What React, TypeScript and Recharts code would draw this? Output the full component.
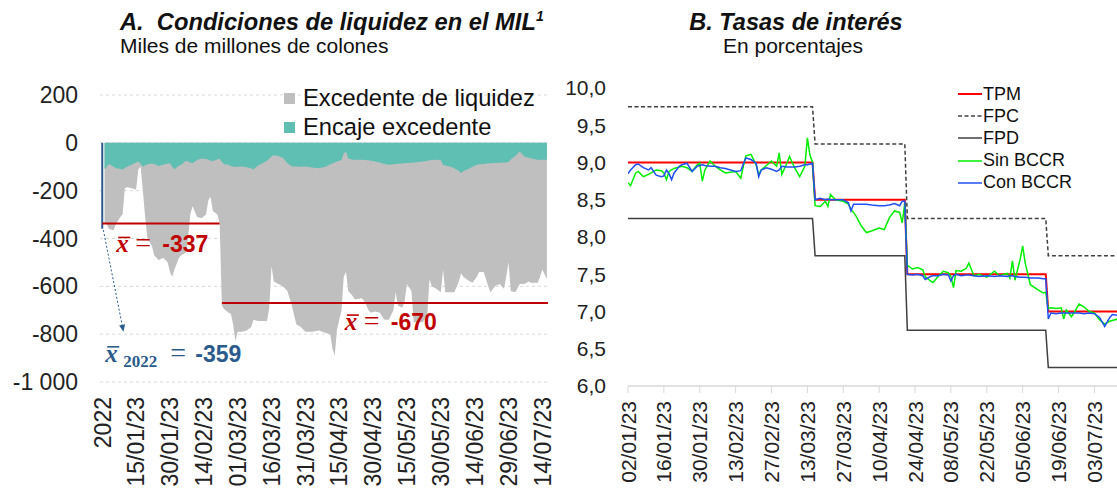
import React from "react";
import {
  Area,
  AreaChart,
  CartesianGrid,
  Line,
  LineChart,
  ReferenceLine,
  XAxis,
  YAxis,
} from "recharts";

// Panel A: liquidez en el MIL (miles de millones de colones)
const LIQ_ORIGIN = "31/12/22";
const liqTickLabels = [
  "2022", "15/01/23", "30/01/23", "14/02/23", "01/03/23", "16/03/23", "31/03/23",
  "15/04/23", "30/04/23", "15/05/23", "30/05/23", "14/06/23", "29/06/23", "14/07/23",
];
const liqDates = [
  "01/01/23", "02/01/23", "03/01/23", "05/01/23", "06/01/23", "08/01/23", "09/01/23", "10/01/23",
  "11/01/23", "13/01/23", "15/01/23", "16/01/23", "17/01/23", "18/01/23", "19/01/23", "20/01/23",
  "22/01/23", "23/01/23", "25/01/23", "27/01/23", "29/01/23", "30/01/23", "31/01/23", "01/02/23",
  "03/02/23", "04/02/23", "06/02/23", "07/02/23", "08/02/23", "09/02/23", "11/02/23", "13/02/23",
  "15/02/23", "16/02/23", "17/02/23", "18/02/23", "20/02/23", "21/02/23", "22/02/23", "23/02/23",
  "25/02/23", "26/02/23", "27/02/23", "28/02/23", "01/03/23", "03/03/23", "05/03/23", "07/03/23",
  "08/03/23", "10/03/23", "12/03/23", "14/03/23", "15/03/23", "16/03/23", "17/03/23", "19/03/23",
  "21/03/23", "23/03/23", "25/03/23", "27/03/23", "29/03/23", "31/03/23", "03/04/23", "06/04/23",
  "09/04/23", "11/04/23", "12/04/23", "13/04/23", "14/04/23", "16/04/23", "17/04/23", "18/04/23",
  "19/04/23", "21/04/23", "22/04/23", "25/04/23", "26/04/23", "28/04/23", "29/04/23", "01/05/23",
  "03/05/23", "05/05/23", "07/05/23", "09/05/23", "10/05/23", "11/05/23", "13/05/23", "14/05/23",
  "15/05/23", "17/05/23", "18/05/23", "20/05/23", "22/05/23", "24/05/23", "25/05/23", "26/05/23",
  "28/05/23", "30/05/23", "31/05/23", "01/06/23", "03/06/23", "05/06/23", "07/06/23", "08/06/23",
  "09/06/23", "11/06/23", "13/06/23", "15/06/23", "16/06/23", "18/06/23", "20/06/23", "21/06/23",
  "23/06/23", "25/06/23", "27/06/23", "28/06/23", "29/06/23", "30/06/23", "02/07/23", "04/07/23",
  "06/07/23", "08/07/23", "09/07/23", "12/07/23", "13/07/23", "14/07/23", "16/07/23",
];
const excedente = [
  -335, -340, -360, -365, -340, -310, -300, -190,
  -185, -190, -195, -110, -100, -200, -310, -400,
  -430, -470, -490, -480, -500, -540, -560, -530,
  -480, -470, -460, -400, -300, -265, -310, -315,
  -300, -240, -225, -285, -300, -335, -680, -695,
  -710, -715, -760, -830, -790, -790, -785, -770,
  -740, -745, -745, -745, -690, -515, -580, -590,
  -600, -620, -680, -760, -770, -790, -790, -785,
  -795, -800, -860, -890, -780, -700, -560, -540,
  -620, -640, -655, -650, -660, -700, -710, -705,
  -710, -740, -740, -700, -625, -680, -690, -660,
  -590, -620, -750, -750, -750, -720, -570, -600,
  -610, -625, -530, -625, -625, -625, -580, -545,
  -560, -575, -585, -560, -540, -540, -600, -625,
  -600, -590, -610, -560, -500, -620, -625, -590,
  -590, -580, -585, -585, -560, -530, -570,
];
const encaje = [
  -110, -100, -88, -100, -106, -108, -112, -105,
  -100, -92, -82, -78, -88, -99, -95, -90,
  -86, -88, -97, -92, -86, -85, -100, -110,
  -95, -92, -75, -78, -82, -85, -72, -65,
  -68, -70, -75, -76, -70, -66, -80, -90,
  -92, -98, -99, -100, -100, -99, -102, -106,
  -112, -95, -85, -75, -65, -57, -52, -55,
  -62, -85, -99, -99, -100, -99, -103, -106,
  -100, -90, -86, -82, -78, -72, -45, -36,
  -65, -71, -71, -71, -72, -73, -75, -78,
  -82, -88, -92, -90, -88, -87, -86, -85,
  -84, -83, -82, -80, -78, -75, -73, -72,
  -71, -73, -92, -95, -99, -106, -118, -126,
  -118, -110, -100, -92, -90, -88, -85, -85,
  -84, -83, -82, -82, -80, -70, -55, -36,
  -57, -62, -66, -71, -71, -71, -71,
];
const mean2022 = -359;
const meanJanFeb = -337;
const meanSinceMar = -670;
const periodOneEnd = "21/02/23";
const periodTwoStart = "22/02/23";

// Panel B: tasas de interés (%)
const RATE_ORIGIN = "02/01/23";
const rateTickLabels = [
  "02/01/23", "16/01/23", "30/01/23", "13/02/23", "27/02/23", "13/03/23", "27/03/23",
  "10/04/23", "24/04/23", "08/05/23", "22/05/23", "05/06/23", "19/06/23", "03/07/23",
];
const rateDates = [
  "02/01/23", "03/01/23", "05/01/23", "06/01/23", "08/01/23", "10/01/23", "11/01/23", "13/01/23",
  "15/01/23", "16/01/23", "17/01/23", "18/01/23", "19/01/23", "20/01/23", "22/01/23", "23/01/23",
  "25/01/23", "27/01/23", "29/01/23", "30/01/23", "31/01/23", "01/02/23", "03/02/23", "05/02/23",
  "07/02/23", "09/02/23", "11/02/23", "13/02/23", "15/02/23", "16/02/23", "17/02/23", "19/02/23",
  "21/02/23", "22/02/23", "23/02/23", "25/02/23", "27/02/23", "01/03/23", "02/03/23", "03/03/23",
  "05/03/23", "06/03/23", "08/03/23", "10/03/23", "12/03/23", "13/03/23", "14/03/23", "15/03/23",
  "16/03/23", "18/03/23", "20/03/23", "21/03/23", "22/03/23", "24/03/23", "27/03/23", "29/03/23",
  "30/03/23", "31/03/23", "01/04/23", "03/04/23", "05/04/23", "07/04/23", "10/04/23", "12/04/23",
  "14/04/23", "16/04/23", "18/04/23", "19/04/23", "20/04/23", "21/04/23", "23/04/23", "25/04/23",
  "27/04/23", "28/04/23", "30/04/23", "01/05/23", "03/05/23", "05/05/23", "07/05/23", "08/05/23",
  "09/05/23", "10/05/23", "12/05/23", "14/05/23", "15/05/23", "17/05/23", "19/05/23", "22/05/23",
  "25/05/23", "27/05/23", "30/05/23", "31/05/23", "01/06/23", "02/06/23", "04/06/23", "05/06/23",
  "06/06/23", "08/06/23", "11/06/23", "13/06/23", "14/06/23", "15/06/23", "16/06/23", "18/06/23",
  "20/06/23", "21/06/23", "22/06/23", "24/06/23", "25/06/23", "27/06/23", "29/06/23", "01/07/23",
  "03/07/23", "05/07/23", "07/07/23", "09/07/23", "10/07/23", "12/07/23", "14/07/23", "16/07/23",
  "18/07/23", "20/07/23",
];
const conBccr = [
  8.85, 8.90, 8.97, 8.98, 8.93, 8.90, 8.93, 8.83,
  8.81, 8.82, 8.90, 8.85, 8.77, 8.86, 8.95, 8.97,
  8.99, 8.88, 8.95, 8.96, 8.97, 8.96, 8.95, 8.95,
  8.93, 8.92, 8.90, 8.88, 8.89, 8.98, 9.06, 9.04,
  8.99, 8.81, 8.90, 8.93, 8.91, 8.88, 8.90, 8.95,
  8.94, 8.94, 8.94, 8.95, 8.97, 8.97, 8.98, 8.99,
  8.50, 8.52, 8.50, 8.51, 8.50, 8.50, 8.50, 8.46,
  8.35, 8.44, 8.44, 8.44, 8.44, 8.43, 8.42, 8.42,
  8.43, 8.45, 8.42, 8.48, 8.48, 7.50, 7.49, 7.50,
  7.48, 7.43, 7.47, 7.48, 7.48, 7.50, 7.49, 7.41,
  7.48, 7.50, 7.48, 7.49, 7.49, 7.48, 7.47, 7.48,
  7.47, 7.48, 7.47, 7.48, 7.48, 7.47, 7.46, 7.46,
  7.46, 7.45, 7.45, 7.44, 7.44, 6.90, 6.98, 6.97,
  6.98, 6.98, 6.98, 6.98, 6.98, 6.98, 6.97, 6.98,
  6.97, 6.92, 6.80, 6.92, 6.96, 6.95, 6.97, 6.98,
  6.97, 6.97,
];
const sinBccr = [
  8.73, 8.69, 8.86, 8.88, 8.81, 8.84, 8.86, 8.90,
  8.89, 8.86, 8.77, 8.88, 8.90, 8.92, 8.94, 8.95,
  8.93, 8.88, 8.97, 8.99, 8.75, 8.90, 9.02, 8.95,
  8.90, 8.86, 8.87, 8.88, 8.79, 8.95, 9.09, 9.11,
  8.97, 8.84, 8.90, 8.96, 9.02, 8.95, 9.13, 8.84,
  8.99, 9.08, 8.93, 8.81, 8.95, 9.33, 9.10, 9.00,
  8.42, 8.41, 8.48, 8.41, 8.57, 8.50, 8.48, 8.44,
  8.37, 8.33, 8.28, 8.15, 8.06, 8.08, 8.12, 8.10,
  8.26, 8.35, 8.33, 8.19, 8.46, 7.62, 7.57, 7.59,
  7.56, 7.47, 7.41, 7.39, 7.47, 7.54, 7.52, 7.47,
  7.32, 7.55, 7.54, 7.58, 7.65, 7.48, 7.50, 7.46,
  7.54, 7.48, 7.51, 7.45, 7.68, 7.42, 7.70, 7.88,
  7.65, 7.36, 7.29, 7.25, 7.26, 7.04, 7.05, 7.04,
  7.05, 6.90, 7.02, 6.93, 6.98, 7.10, 7.06, 7.00,
  6.98, 6.89, 6.83, 6.87, 6.88, 6.90, 6.92, 6.93,
  6.92, 6.93,
];
const policyDates = ["02/01/23", "15/03/23", "16/03/23", "20/04/23", "21/04/23", "14/06/23", "15/06/23", "20/07/23"];
const tpm = [9.0, 9.0, 8.5, 8.5, 7.5, 7.5, 7.0, 7.0];
const fpc = [9.75, 9.75, 9.25, 9.25, 8.25, 8.25, 7.75, 7.75];
const fpd = [8.25, 8.25, 7.75, 7.75, 6.75, 6.75, 6.25, 6.25];

const DAY_MS = 86400000;

function toUtc(label: string) {
  const [d, m, y] = label.split("/").map(Number);
  return Date.UTC(2000 + y, m - 1, d);
}

function dayOf(label: string, origin: string) {
  if (label === "2022") return 0;
  return Math.round((toUtc(label) - toUtc(origin)) / DAY_MS);
}

const liqData = liqDates.map((d, i) => ({
  day: dayOf(d, LIQ_ORIGIN),
  excedente: excedente[i],
  encaje: encaje[i],
}));
const liqTicks = liqTickLabels.map((t) => dayOf(t, LIQ_ORIGIN));
const liqTickMap = new Map(liqTicks.map((d, i) => [d, liqTickLabels[i]]));
const lastLiqDay = liqData[liqData.length - 1].day;

const rateTicks = rateTickLabels.map((t) => dayOf(t, RATE_ORIGIN));
const rateTickMap = new Map(rateTicks.map((d, i) => [d, rateTickLabels[i]]));
const toSeries = (values: number[], dates: string[]) =>
  dates.map((d, i) => ({ day: dayOf(d, RATE_ORIGIN), value: values[i] }));

const rateSeries = [
  { name: "TPM", color: "#ff0000", width: 2, dash: undefined, data: toSeries(tpm, policyDates) },
  { name: "FPC", color: "#404040", width: 1.5, dash: "4 2.5", data: toSeries(fpc, policyDates) },
  { name: "FPD", color: "#404040", width: 1.5, dash: undefined, data: toSeries(fpd, policyDates) },
  { name: "Sin BCCR", color: "#00ee00", width: 1.5, dash: undefined, data: toSeries(sinBccr, rateDates) },
  { name: "Con BCCR", color: "#2050f0", width: 1.5, dash: undefined, data: toSeries(conBccr, rateDates) },
];

const liqSeries = [
  { key: "excedente", name: "Excedente de liquidez", color: "#bfbfbf" },
  { key: "encaje", name: "Encaje excedente", color: "#5fbfb2" },
];

const RED = "#c00000";
const NAVY = "#2a5b8c";
const SERIF = '"Liberation Serif", "DejaVu Serif", serif';

const formatThousands = (v: number) => String(v).replace(/\B(?=(\d{3})+(?!\d))/g, " ");

function RotatedTick(props: any) {
  const { x, y, payload, labels, fontSize } = props;
  return (
    <text
      x={x}
      y={y}
      transform={`rotate(-90 ${x} ${y})`}
      textAnchor="end"
      dy="0.36em"
      fontSize={fontSize}
      fill="#222"
    >
      {labels.get(payload.value) ?? ""}
    </text>
  );
}

// x̄ = value, hung off a reference line's viewBox
function MeanLabel(props: any) {
  const { viewBox, dx, dy, value, sub, color } = props;
  const x0 = viewBox.x + dx;
  const base = viewBox.y + dy;
  const eqAt = sub ? 65 : 19;
  const valAt = sub ? 90 : 46;
  return (
    <g fill={color}>
      <text x={x0} y={base} fontFamily={SERIF} fontStyle="italic" fontWeight="bold" fontSize={25}>
        x
      </text>
      <line x1={x0 + 2} x2={x0 + 14} y1={base - 15} y2={base - 15} stroke={color} strokeWidth={1.6} />
      {sub && (
        <text x={x0 + 18} y={base + 5} fontFamily={SERIF} fontWeight="bold" fontSize={17}>
          {sub}
        </text>
      )}
      <text x={x0 + eqAt} y={base} fontFamily={SERIF} fontSize={28}>
        =
      </text>
      <text x={x0 + valAt} y={base} fontWeight="bold" fontSize={23}>
        {value}
      </text>
    </g>
  );
}

function ArrowShape(props: any) {
  const { x1, y1, x2, y2 } = props;
  const a = Math.atan2(y2 - y1, x2 - x1);
  const len = 7;
  const w = 3;
  const bx = x2 - len * Math.cos(a);
  const by = y2 - len * Math.sin(a);
  const head = `M${x2},${y2} L${bx + w * Math.sin(a)},${by - w * Math.cos(a)} L${bx - w * Math.sin(a)},${by + w * Math.cos(a)} Z`;
  return (
    <g>
      <line x1={x1} y1={y1} x2={bx} y2={by} stroke={NAVY} strokeWidth={1} strokeDasharray="2 2" />
      <path d={head} fill={NAVY} />
    </g>
  );
}

function LiquidityChart() {
  return (
    <AreaChart width={560} height={490} data={liqData} margin={{ top: 95, right: 12, bottom: 0, left: 0 }}>
      <CartesianGrid vertical={false} stroke="#d9d9d9" strokeDasharray="3 3" />
      <XAxis
        type="number"
        dataKey="day"
        domain={[-1, 197.5]}
        ticks={liqTicks}
        interval={0}
        height={108}
        axisLine={false}
        tickLine={false}
        tickMargin={9}
        tick={(p: any) => <RotatedTick {...p} labels={liqTickMap} fontSize={23} />}
      />
      <YAxis
        type="number"
        domain={[-1000, 200]}
        ticks={[-1000, -800, -600, -400, -200, 0, 200]}
        width={100}
        axisLine={false}
        tickLine={false}
        tickMargin={16}
        tickFormatter={formatThousands}
        tick={{ fontSize: 23, fill: "#222" }}
      />
      {liqSeries.map((s) => (
        <Area
          key={s.key}
          type="linear"
          dataKey={s.key}
          name={s.name}
          baseValue={0}
          fill={s.color}
          fillOpacity={1}
          stroke="none"
          dot={false}
          activeDot={false}
          isAnimationActive={false}
        />
      ))}
      <ReferenceLine
        segment={[{ x: 0, y: 0 }, { x: 0, y: mean2022 }]}
        stroke={NAVY}
        strokeWidth={2}
        label={<MeanLabel dx={3} dy={219} value={String(mean2022)} sub="2022" color={NAVY} />}
      />
      <ReferenceLine
        segment={[{ x: 0.5, y: -365 }, { x: 9.4, y: -790 }]}
        shape={ArrowShape}
      />
      <ReferenceLine
        segment={[{ x: 0, y: meanJanFeb }, { x: dayOf(periodOneEnd, LIQ_ORIGIN), y: meanJanFeb }]}
        stroke={RED}
        strokeWidth={2}
        label={<MeanLabel dx={14} dy={29} value={String(meanJanFeb)} color={RED} />}
      />
      <ReferenceLine
        segment={[
          { x: dayOf(periodTwoStart, LIQ_ORIGIN), y: meanSinceMar },
          { x: lastLiqDay + 0.5, y: meanSinceMar },
        ]}
        stroke={RED}
        strokeWidth={2}
        label={<MeanLabel dx={123} dy={27} value={String(meanSinceMar)} color={RED} />}
      />
    </AreaChart>
  );
}

function RatesChart() {
  return (
    <LineChart width={590} height={490} margin={{ top: 88, right: 12, bottom: 0, left: 0 }}>
      <XAxis
        type="number"
        dataKey="day"
        domain={[0, 199]}
        ticks={rateTicks}
        interval={0}
        height={104}
        allowDataOverflow
        axisLine={{ stroke: "#d9d9d9", strokeWidth: 1.5 }}
        tickLine={{ stroke: "#d9d9d9" }}
        tickSize={7}
        tickMargin={8}
        tick={(p: any) => <RotatedTick {...p} labels={rateTickMap} fontSize={21} />}
      />
      <YAxis
        type="number"
        domain={[6, 10]}
        ticks={[6, 6.5, 7, 7.5, 8, 8.5, 9, 9.5, 10]}
        width={68}
        axisLine={false}
        tickLine={false}
        tickMargin={16}
        tickFormatter={(v: number) => v.toFixed(1).replace(".", ",")}
        tick={{ fontSize: 21, fill: "#222" }}
      />
      {rateSeries.map((s) => (
        <Line
          key={s.name}
          data={s.data}
          dataKey="value"
          name={s.name}
          type="linear"
          stroke={s.color}
          strokeWidth={s.width}
          strokeDasharray={s.dash}
          dot={false}
          activeDot={false}
          isAnimationActive={false}
        />
      ))}
    </LineChart>
  );
}

const abs = (style: React.CSSProperties): React.CSSProperties => ({ position: "absolute", ...style });

export default function App() {
  return (
    <div
      style={{
        position: "fixed",
        left: 0,
        top: 0,
        width: 1117,
        height: 490,
        overflow: "hidden",
        background: "#fff",
        color: "#111",
        fontFamily: '"Liberation Sans", Arial, sans-serif',
      }}
    >
      <div style={abs({ left: 0, top: 0 })}>
        <LiquidityChart />
      </div>
      <div style={abs({ left: 560, top: 0 })}>
        <RatesChart />
      </div>

      <div style={abs({ left: 120, top: 8, fontSize: 23.7, lineHeight: "28px", fontWeight: "bold", fontStyle: "italic", whiteSpace: "nowrap" })}>
        A.&nbsp; Condiciones de liquidez en el MIL
        <span style={{ fontSize: 14, position: "relative", top: -9 }}>1</span>
      </div>
      <div style={abs({ left: 120, top: 34, fontSize: 21, lineHeight: "24px", whiteSpace: "nowrap" })}>
        Miles de millones de colones
      </div>
      <div style={abs({ left: 560, width: 472, top: 8, textAlign: "center", fontSize: 23.5, lineHeight: "28px", fontWeight: "bold", fontStyle: "italic" })}>
        B. Tasas de interés
      </div>
      <div style={abs({ left: 560, width: 466, top: 34, textAlign: "center", fontSize: 21, lineHeight: "24px" })}>
        En porcentajes
      </div>

      <div style={abs({ left: 284, top: 84 })}>
        {liqSeries.map((s) => (
          <div key={s.key} style={{ height: 29, display: "flex", alignItems: "center", fontSize: 23.7, whiteSpace: "nowrap" }}>
            <span style={{ width: 11, height: 11, background: s.color, marginRight: 8 }} />
            {s.name}
          </div>
        ))}
      </div>

      <div style={abs({ left: 958, top: 83 })}>
        {rateSeries.map((s) => (
          <div key={s.name} style={{ height: 22.2, display: "flex", alignItems: "center", fontSize: 18, whiteSpace: "nowrap" }}>
            <svg width={24} height={4} style={{ marginRight: 1 }}>
              <line x1={0} x2={24} y1={2} y2={2} stroke={s.color} strokeWidth={s.width} strokeDasharray={s.dash} />
            </svg>
            {s.name}
          </div>
        ))}
      </div>
    </div>
  );
}
